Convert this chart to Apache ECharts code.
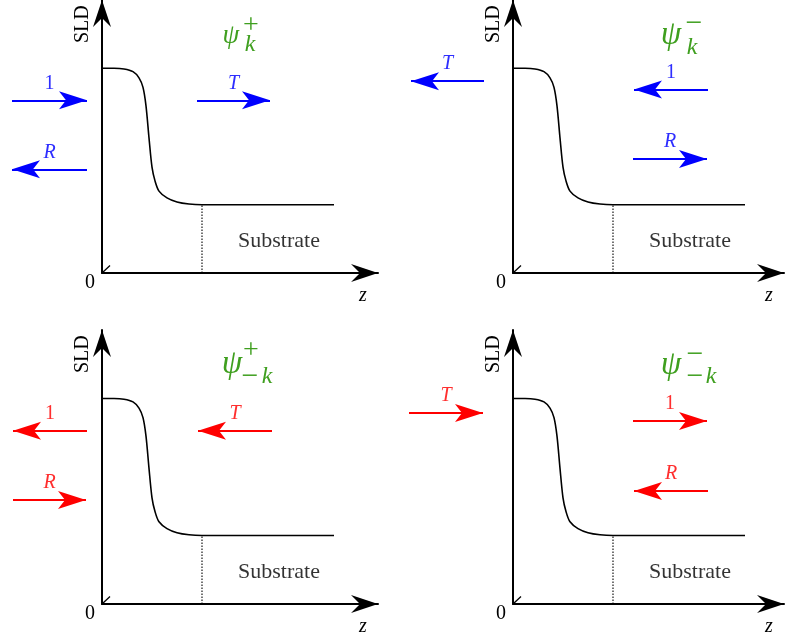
<!DOCTYPE html>
<html>
<head>
<meta charset="utf-8">
<script src="https://cdn.jsdelivr.net/npm/echarts@6/dist/echarts.min.js"></script>
<style>
html, body { margin: 0; padding: 0; background: #fff; }
#chart { width: 786px; height: 639px; }
</style>
</head>
<body>
<div id="chart"></div>
<script>
// SLD depth profile of the film (identical in all four panels)
const profileZ   = [0, 0.12, 0.22, 0.31, 0.37, 0.41, 0.44, 0.47, 0.50, 0.53, 0.57, 0.65, 0.75, 0.87, 1.00, 2.32];
const profileSLD = [3.00, 3.00, 2.99, 2.95, 2.86, 2.72, 2.45, 1.98, 1.55, 1.35, 1.20, 1.10, 1.04, 1.01, 1.00, 1.00];

// film / substrate interface
const interfaceZ = 1.0;
const substrateSLD = 1.0;

// small slanted stroke at the origin
const originTickZ = [0, 0.08];
const originTickSLD = [0, 0.11];

// plane-wave arrows: label, tail z, head z, height (SLD units)
const labelsKPlus  = ['1', 'T', 'R'];
const tailKPlus    = [-0.90, 0.95, -0.15];
const headKPlus    = [-0.15, 1.68, -0.90];
const levelKPlus   = [2.53, 2.53, 1.52];

const labelsKMinus = ['T', '1', 'R'];
const tailKMinus   = [-0.29, 1.95, 1.20];
const headKMinus   = [-1.02, 1.21, 1.94];
const levelKMinus  = [2.81, 2.69, 1.67];

const labelsMKPlus = ['1', 'T', 'R'];
const tailMKPlus   = [-0.15, 1.70, -0.89];
const headMKPlus   = [-0.89, 0.96, -0.16];
const levelMKPlus  = [2.53, 2.53, 1.52];

const labelsMKMinus = ['T', '1', 'R'];
const tailMKMinus   = [-1.04, 1.20, 1.95];
const headMKMinus   = [-0.30, 1.94, 1.21];
const levelMKMinus  = [2.79, 2.67, 1.65];

const SERIF = '"Liberation Serif", "Times New Roman", serif';
const GREEN = '#3f9f1f';
// stealth arrow heads; the empty sub-path puts the tip at the symbol centre
const WAVE_HEAD = 'path://M0,0L9,28L0,21L-9,28ZM0,-28L0,-28Z';
const AXIS_HEAD = 'path://M0,0L9,27L0,18L-9,27ZM0,-27L0,-27Z';

// state labels: [text, x, y, font size, italic]
const psiKPlus = [
  ['ψ', 231, 36, 27, true], ['+', 251, 26, 28, false], ['k', 250, 45, 24, true]
];
const psiKMinus = [
  ['ψ', 671, 35, 33, true], ['−', 694, 24, 30, false], ['k', 692, 48, 24, true]
];
const psiMKPlus = [
  ['ψ', 232, 364, 33, true], ['+', 251, 351, 28, false], ['−', 250, 377, 30, false], ['k', 267, 377, 24, true]
];
const psiMKMinus = [
  ['ψ', 671, 365, 33, true], ['−', 695, 355, 30, false], ['−', 695, 377, 30, false], ['k', 711, 377, 24, true]
];

const panels = [
  { left: 102, top: 0,   width: 276, height: 273, labels: labelsKPlus,   tail: tailKPlus,   head: headKPlus,   level: levelKPlus,   color: '#0000ff', text: '#2e2eff', psi: psiKPlus },
  { left: 513, top: 0,   width: 271, height: 273, labels: labelsKMinus,  tail: tailKMinus,  head: headKMinus,  level: levelKMinus,  color: '#0000ff', text: '#2e2eff', psi: psiKMinus },
  { left: 102, top: 330, width: 276, height: 274, labels: labelsMKPlus,  tail: tailMKPlus,  head: headMKPlus,  level: levelMKPlus,  color: '#ff0000', text: '#ff2e2e', psi: psiMKPlus },
  { left: 513, top: 330, width: 271, height: 274, labels: labelsMKMinus, tail: tailMKMinus, head: headMKMinus, level: levelMKMinus, color: '#ff0000', text: '#ff2e2e', psi: psiMKMinus }
];

const grid = [], xAxis = [], yAxis = [], series = [], graphic = [];

panels.forEach((p, i) => {
  grid.push({ left: p.left, top: p.top, width: p.width, height: p.height, outerBoundsMode: 'none' });

  xAxis.push({
    gridIndex: i, type: 'value', min: 0, max: p.width / 100,
    name: 'z', nameLocation: 'end', nameGap: -19, nameMoveOverlap: false,
    nameTextStyle: { fontFamily: SERIF, fontStyle: 'italic', fontSize: 20, color: '#000',
                     align: 'left', verticalAlign: 'top', padding: [13, 0, 0, 0] },
    axisLine: { onZero: true, symbol: ['none', AXIS_HEAD], symbolSize: [18, 54],
                lineStyle: { color: '#000', width: 2 } },
    axisTick: { show: false }, axisLabel: { show: false }, splitLine: { show: false }
  });

  yAxis.push({
    gridIndex: i, type: 'value', min: 0, max: 4, interval: 4,
    name: 'SLD', nameLocation: 'end', nameGap: -43, nameRotate: 90, nameMoveOverlap: false,
    nameTextStyle: { fontFamily: SERIF, fontSize: 20, color: '#000',
                     align: 'left', verticalAlign: 'bottom', padding: [0, 0, 9, 0] },
    axisLine: { onZero: true, symbol: ['none', AXIS_HEAD], symbolSize: [18, 54],
                lineStyle: { color: '#000', width: 2 } },
    axisTick: { show: false }, splitLine: { show: false },
    axisLabel: { formatter: v => (v === 0 ? '0' : ''), margin: 7, verticalAlign: 'top',
                 fontFamily: SERIF, fontSize: 20, color: '#000' }
  });

  // SLD profile
  series.push({
    type: 'line', xAxisIndex: i, yAxisIndex: i, symbol: 'none', smooth: 0.3, silent: true,
    data: profileZ.map((z, k) => [z, profileSLD[k]]),
    lineStyle: { color: '#000', width: 1.6 }, z: 3
  });

  // interface marker
  series.push({
    type: 'line', xAxisIndex: i, yAxisIndex: i, symbol: 'none', silent: true,
    data: [[interfaceZ, 0], [interfaceZ, substrateSLD]],
    lineStyle: { color: '#000', width: 1.1, type: [1.5, 1.5] }, z: 2
  });

  // origin stroke
  series.push({
    type: 'line', xAxisIndex: i, yAxisIndex: i, symbol: 'none', silent: true,
    data: originTickZ.map((z, k) => [z, originTickSLD[k]]),
    lineStyle: { color: '#000', width: 1.3 }, z: 2
  });

  // substrate caption
  series.push({
    type: 'scatter', xAxisIndex: i, yAxisIndex: i, symbolSize: 0, silent: true,
    data: [[1.77, 0.46]],
    label: { show: true, position: 'inside', formatter: 'Substrate',
             fontFamily: SERIF, fontSize: 22, color: '#000' }
  });

  // incident / reflected / transmitted waves
  series.push({
    type: 'lines', coordinateSystem: 'cartesian2d', xAxisIndex: i, yAxisIndex: i,
    clip: false, silent: true, z: 5,
    symbol: ['none', WAVE_HEAD], symbolSize: [[18, 56], [18, 56]],
    lineStyle: { color: p.color, width: 2, opacity: 1, curveness: 0 },
    label: { show: true, position: 'middle', distance: 7, formatter: '{b}',
             color: p.text, fontFamily: SERIF, fontSize: 20, fontStyle: 'italic' },
    data: p.labels.map((lab, k) => {
      const item = { name: lab, coords: [[p.tail[k], p.level[k]], [p.head[k], p.level[k]]] };
      if (lab === '1') item.label = { fontStyle: 'normal' };
      return item;
    })
  });

  p.psi.forEach(([t, x, y, size, italic]) => {
    graphic.push({
      type: 'text', x: x, y: y, silent: true,
      style: { text: t, fill: GREEN, align: 'center', verticalAlign: 'middle',
               font: (italic ? 'italic ' : '') + size + 'px ' + SERIF }
    });
  });
});

const chart = echarts.init(document.getElementById('chart'), null, { renderer: 'canvas' });
chart.setOption({
  animation: false,
  backgroundColor: '#fff',
  grid, xAxis, yAxis, series, graphic
});
</script>
</body>
</html>
